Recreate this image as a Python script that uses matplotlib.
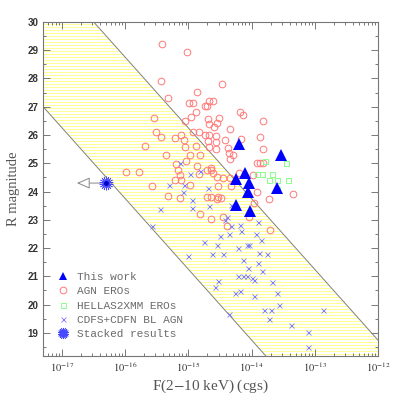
import matplotlib
matplotlib.use("Agg")
import matplotlib.pyplot as plt
import numpy as np

plt.rcParams['mathtext.fontset'] = 'stix'

# log10 F(2-10 keV) and R magnitude
tw_logf = [-14.20, -13.54, -14.11, -14.24, -14.04, -14.05, -13.60, -14.24, -14.03]
tw_r = [25.68, 25.28, 24.65, 24.44, 24.30, 24.00, 24.14, 23.53, 23.32]

agn_logf = [-15.42, -15.03, -15.44, -14.47, -14.87, -15.33, -14.99, -14.92, -14.74, -14.71,
            -14.67, -14.61, -14.88, -14.19, -14.14, -15.55, -14.96, -15.05, -14.69, -14.51,
            -14.67, -14.55, -14.59, -13.82, -14.34, -15.51, -14.93, -14.84, -15.11, -15.21,
            -15.43, -15.07, -14.74, -14.67, -14.56, -14.56, -14.69, -14.42, -13.87, -14.16,
            -15.68, -15.05, -14.88, -14.67, -14.56, -14.37, -13.82, -15.36, -14.98, -14.82,
            -14.36, -14.30, -14.34, -15.04, -14.87, -15.19, -14.64, -13.91, -13.87, -13.82,
            -15.99, -15.79, -15.16, -15.13, -14.83, -14.71, -14.64, -14.61, -15.21, -15.11,
            -14.55, -14.45, -14.34, -14.20, -13.97, -15.57, -14.98, -14.53, -14.33, -13.92,
            -13.35, -15.33, -15.13, -14.70, -14.65, -14.53, -14.48, -14.54, -13.73, -13.96,
            -14.82, -14.64, -14.46, -14.39, -14.04, -13.70]
agn_r = [29.21, 28.92, 27.91, 27.81, 27.53, 27.30, 27.12, 27.12, 27.03, 27.01,
         27.21, 27.21, 26.83, 26.80, 26.71, 26.60, 26.62, 26.50, 26.56, 26.60,
         26.40, 26.41, 26.27, 26.51, 26.21, 26.12, 26.12, 26.11, 26.01, 25.91,
         25.92, 25.83, 26.01, 26.01, 25.95, 25.77, 25.80, 25.83, 25.92, 25.86,
         25.62, 25.59, 25.62, 25.59, 25.52, 25.53, 25.50, 25.30, 25.30, 25.28,
         25.35, 25.30, 25.15, 25.09, 24.91, 24.98, 24.83, 25.01, 25.01, 25.01,
         24.70, 24.70, 24.77, 24.60, 24.63, 24.77, 24.75, 24.66, 24.42, 24.42,
         24.53, 24.48, 24.48, 24.65, 24.59, 24.20, 24.24, 24.20, 24.20, 23.99,
         23.92, 23.85, 23.77, 23.81, 23.81, 23.80, 23.77, 23.73, 23.73, 23.59,
         23.20, 23.03, 23.10, 22.79, 23.10, 22.65]

hellas_logf = [-13.79, -13.45, -13.91, -13.83, -13.68, -13.72, -13.59, -13.43, -13.60]
hellas_r = [25.09, 25.01, 24.61, 24.61, 24.62, 24.41, 24.41, 24.41, 24.10]

bl_logf = [-15.14, -14.98, -14.81, -15.31, -15.07, -15.08, -14.69, -14.95, -14.95, -15.45,
           -14.67, -14.32, -15.58, -15.01, -14.39, -14.42, -14.18, -14.32, -13.89, -14.17,
           -14.35, -14.50, -13.93, -14.75, -14.55, -13.85, -14.08, -14.04, -14.21, -14.62,
           -14.45, -13.88, -13.76, -14.14, -13.89, -14.05, -13.84, -14.21, -14.14, -14.08,
           -14.00, -13.96, -13.67, -14.53, -14.58, -14.18, -14.26, -13.96, -13.59, -13.56,
           -13.80, -13.69, -13.72, -14.35, -13.38, -12.87, -13.10, -13.10]
bl_r = [25.01, 24.61, 24.71, 24.22, 24.22, 23.97, 24.12, 23.71, 23.42, 23.40,
        23.50, 23.52, 22.79, 21.71, 23.09, 22.99, 22.83, 22.79, 22.92, 22.61,
        22.50, 22.44, 22.50, 22.20, 22.10, 22.30, 22.11, 22.11, 22.00, 21.80,
        21.80, 21.83, 21.78, 21.59, 21.49, 21.30, 21.20, 21.00, 21.02, 21.02,
        20.94, 20.88, 20.80, 20.85, 20.63, 20.49, 20.41, 20.29, 20.41, 20.00,
        19.80, 19.80, 19.49, 19.68, 19.29, 19.80, 19.04, 18.51]

stack_logf = -16.31
stack_r = 24.30
stack_limit_logf = -16.81

xo_bounds = [-1, 1]   # log(fX/fopt) band
xtick_exp = [-17, -16, -15, -14, -13, -12]

xmin, xmax = 5e-18, 1e-12
ymin, ymax = 18.2, 30.0

fig = plt.figure(figsize=(3.99, 3.99), dpi=100)
ax = fig.add_axes([0.108, 0.109, 0.839, 0.836])
ax.set_xscale('log')
ax.set_xlim(xmin, xmax)
ax.set_ylim(ymin, ymax)

# X/O band: R = 2.5*(xo - 5.5 - log f)
lf = np.linspace(np.log10(xmin), np.log10(xmax), 400)
r_lo = 2.5 * (xo_bounds[0] - 5.5 - lf)
r_hi = 2.5 * (xo_bounds[1] - 5.5 - lf)
band = ax.fill_between(10**lf, r_lo, r_hi, facecolor='none', edgecolor='none', lw=0)
hl = ax.hlines(np.arange(18.25, 30.0, 0.106), xmin, xmax, colors='#ffff8c', lw=0.65, zorder=1)
hl.set_clip_path(band.get_paths()[0], band.get_transform())
ax.plot(10**lf, r_lo, color='#808080', lw=0.7, zorder=2)
ax.plot(10**lf, r_hi, color='#808080', lw=0.7, zorder=2)

ax.plot(10**np.array(agn_logf), agn_r, 'o', mfc='none', mec='#ff7878', ms=4.8, mew=0.7,
        ls='none', zorder=3, label='AGN EROs')
ax.plot(10**np.array(hellas_logf), hellas_r, 's', mfc='none', mec='#88ff88', ms=3.6, mew=0.7,
        ls='none', zorder=3, label='HELLAS2XMM EROs')
ax.plot(10**np.array(bl_logf), bl_r, 'x', color='#7c7cff', ms=3.6, mew=0.6,
        ls='none', zorder=3, label='CDFS+CDFN BL AGN')
ax.plot(10**np.array(tw_logf), tw_r, '^', color='#0000ff', ms=8.5, mew=0,
        ls='none', zorder=4, label='This work')
ax.plot(10**stack_logf, stack_r, marker=(18, 2, 0), color='#4848ff', ms=10, mew=0.5,
        ls='none', zorder=4, label='Stacked results')
ax.plot(10**stack_logf, stack_r, 'o', color='#0000cc', ms=2.5, zorder=5)
ax.annotate('', xy=(10**stack_limit_logf, stack_r), xytext=(10**stack_logf, stack_r),
            arrowprops=dict(arrowstyle='-|>,head_length=0.8,head_width=0.35',
                            fc='white', ec='#888888', lw=0.7), zorder=3)

handles, labels = ax.get_legend_handles_labels()
order = [3, 0, 1, 2, 4]
leg = ax.legend([handles[i] for i in order], [labels[i] for i in order],
                loc='upper left', bbox_to_anchor=(0.042, 0.25), frameon=False,
                borderpad=0, borderaxespad=0, handlelength=1.0, handletextpad=0.8,
                labelspacing=0.38, prop={'family': 'Liberation Mono', 'size': 8})
for t in leg.get_texts():
    t.set_color('#6a6a6a')
leg.legend_handles[0].set_markersize(6)
leg.legend_handles[4].set_markersize(8)

ax.set_xticks([10.0**e for e in xtick_exp])
ax.set_xticklabels([r'$10^{%d}$' % e for e in xtick_exp])
ax.set_yticks(range(19, 31))
ax.set_yticks(np.arange(18.5, 30.01, 0.5), minor=True)
ax.tick_params(which='both', direction='in', top=True, right=True, colors='#777777',
               labelcolor='#333333', width=0.7)
ax.tick_params(which='major', length=5)
ax.tick_params(which='minor', length=2.5)
for lab in ax.get_yticklabels():
    lab.set_fontfamily('Liberation Sans')
    lab.set_fontweight('bold')
    lab.set_fontsize(7)
for lab in ax.get_xticklabels():
    lab.set_fontsize(7.5)
for s in ax.spines.values():
    s.set_color('#777777')
    s.set_linewidth(0.8)

ax.set_xlabel('F(2$-$10 keV) (cgs)', family='Liberation Serif', fontsize=11, color='#555555',
              labelpad=3)
ax.set_ylabel('R magnitude', family='Liberation Serif', fontsize=10.5, color='#555555',
              labelpad=5)

fig.savefig('out.png', dpi=100)
